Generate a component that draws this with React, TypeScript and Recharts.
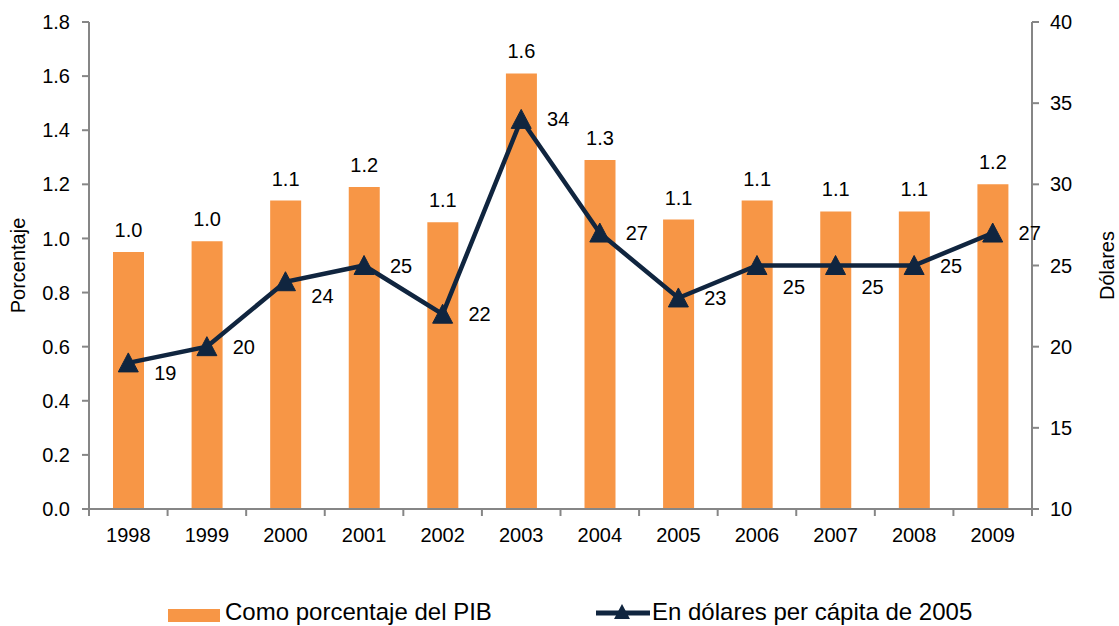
import React from 'react';
import { ComposedChart, Bar, Line, XAxis, YAxis, LabelList, Legend } from 'recharts';

const years = ['1998', '1999', '2000', '2001', '2002', '2003', '2004', '2005', '2006', '2007', '2008', '2009'];
const pctPIB = [0.95, 0.99, 1.14, 1.19, 1.06, 1.61, 1.29, 1.07, 1.14, 1.1, 1.1, 1.2];
const usdPerCapita = [19, 20, 24, 25, 22, 34, 27, 23, 25, 25, 25, 27];
const leftTicks = [0, 0.2, 0.4, 0.6, 0.8, 1.0, 1.2, 1.4, 1.6, 1.8];
const rightTicks = [10, 15, 20, 25, 30, 35, 40];
const seriesNames = ['Como porcentaje del PIB', 'En dólares per cápita de 2005'];

// label placement style (vertical nudges for line labels, px)
const lineLabelDy = [10, 0, 14, 0, 0, 0, 0, 0, 21, 21, 0, 0];

const data = years.map((y, i) => ({ year: y, pct: pctPIB[i], usd: usdPerCapita[i] }));

const W = 1119;
const H = 626;
const FONT = '"Liberation Sans", Arial, sans-serif';
const BAR = '#F79646';
const NAVY = '#10253F';
const AXIS = '#868686';
const PLOT_LEFT = 89;
const PLOT_RIGHT = 1032;
const BW = (PLOT_RIGHT - PLOT_LEFT) / years.length;

const fmt1 = (v: number) => (Math.round(v * 10 + 1e-9) / 10).toFixed(1);

const XTick = (props: any) => {
  const { x, y, payload, index } = props;
  const axisY = y - 19;
  const bx = x - BW / 2;
  return (
    <g>
      <line x1={bx} y1={axisY} x2={bx} y2={axisY + 7} stroke={AXIS} strokeWidth={2} />
      {index === years.length - 1 && (
        <line x1={x + BW / 2} y1={axisY} x2={x + BW / 2} y2={axisY + 7} stroke={AXIS} strokeWidth={2} />
      )}
      <text x={x} y={y} dy="0.71em" textAnchor="middle" fill="#000" fontSize={20} fontFamily={FONT}>
        {payload.value}
      </text>
    </g>
  );
};

const Triangle = (props: any) => {
  const { cx, cy, index } = props;
  if (cx == null || cy == null) return null;
  return (
    <path
      key={`tri-${index}`}
      d={`M${cx},${cy - 10} L${cx + 10},${cy + 9} L${cx - 10},${cy + 9} Z`}
      fill={NAVY}
      stroke={NAVY}
      strokeWidth={1}
    />
  );
};

const BarLabel = (props: any) => {
  const { x, y, width, value } = props;
  return (
    <text
      x={x + width / 2}
      y={y - 22}
      textAnchor="middle"
      dominantBaseline="central"
      fontSize={20}
      fontFamily={FONT}
      fill="#000"
    >
      {fmt1(value)}
    </text>
  );
};

const LineLabel = (props: any) => {
  const { x, y, value, index } = props;
  return (
    <text
      x={x + 37}
      y={y + (lineLabelDy[index] || 0)}
      textAnchor="middle"
      dominantBaseline="central"
      fontSize={20}
      fontFamily={FONT}
      fill="#000"
    >
      {value}
    </text>
  );
};

const LegendContent = () => (
  <div style={{ position: 'relative', width: W, height: 30, fontFamily: FONT, fontSize: 24, color: '#000' }}>
    <div style={{ position: 'absolute', left: 168, top: 12, width: 52, height: 13, background: BAR }} />
    <span style={{ position: 'absolute', left: 225, top: 3, lineHeight: '24px', whiteSpace: 'nowrap' }}>
      {seriesNames[0]}
    </span>
    <svg style={{ position: 'absolute', left: 596, top: 0 }} width={56} height={30}>
      <line x1={0} y1={16} x2={54} y2={16} stroke={NAVY} strokeWidth={5} />
      <path d="M26,7 L34,22 L18,22 Z" fill={NAVY} />
    </svg>
    <span style={{ position: 'absolute', left: 652, top: 3, lineHeight: '24px', whiteSpace: 'nowrap' }}>
      {seriesNames[1]}
    </span>
  </div>
);

export default function App() {
  return (
    <div style={{ position: 'absolute', left: 0, top: 0, width: W, height: H, background: '#fff' }}>
      <ComposedChart
        width={W}
        height={H}
        data={data}
        margin={{ top: 22, right: 0, bottom: 47, left: 0 }}
      >
        <XAxis
          dataKey="year"
          xAxisId="x"
          height={40}
          tickLine={false}
          tickSize={0}
          tickMargin={19}
          axisLine={{ stroke: AXIS, strokeWidth: 2 }}
          tick={<XTick />}
          interval={0}
        />
        <YAxis
          yAxisId="left"
          orientation="left"
          width={89}
          domain={[0, 1.8]}
          ticks={leftTicks}
          tickFormatter={(v: number) => v.toFixed(1)}
          tickSize={7}
          tickMargin={12}
          tickLine={{ stroke: AXIS, strokeWidth: 2 }}
          axisLine={{ stroke: AXIS, strokeWidth: 2 }}
          tick={{ fill: '#000', fontSize: 20, fontFamily: FONT }}
          interval={0}
          label={{
            value: 'Porcentaje',
            angle: -90,
            position: 'insideLeft',
            offset: 18,
            style: { fill: '#000', fontSize: 20, fontFamily: FONT, textAnchor: 'middle' },
          }}
        />
        <YAxis
          yAxisId="right"
          orientation="right"
          width={87}
          domain={[10, 40]}
          ticks={rightTicks}
          tickSize={7}
          tickMargin={11}
          tickLine={{ stroke: AXIS, strokeWidth: 2 }}
          axisLine={{ stroke: AXIS, strokeWidth: 2 }}
          tick={{ fill: '#000', fontSize: 20, fontFamily: FONT }}
          interval={0}
          label={{
            value: 'Dólares',
            angle: -90,
            position: 'insideRight',
            offset: 12,
            style: { fill: '#000', fontSize: 20, fontFamily: FONT, textAnchor: 'middle' },
          }}
        />
        <Legend
          verticalAlign="bottom"
          height={30}
          content={<LegendContent />}
          wrapperStyle={{ position: 'absolute', left: 0, top: 597, width: W, height: 30 }}
        />
        <Bar
          xAxisId="x"
          yAxisId="left"
          dataKey="pct"
          name={seriesNames[0]}
          fill={BAR}
          barSize={31}
          isAnimationActive={false}
        >
          <LabelList dataKey="pct" content={<BarLabel />} />
        </Bar>
        <Line
          xAxisId="x"
          yAxisId="right"
          dataKey="usd"
          name={seriesNames[1]}
          stroke={NAVY}
          strokeWidth={4.5}
          dot={<Triangle />}
          activeDot={false}
          isAnimationActive={false}
        >
          <LabelList dataKey="usd" content={<LineLabel />} />
        </Line>
      </ComposedChart>
    </div>
  );
}
